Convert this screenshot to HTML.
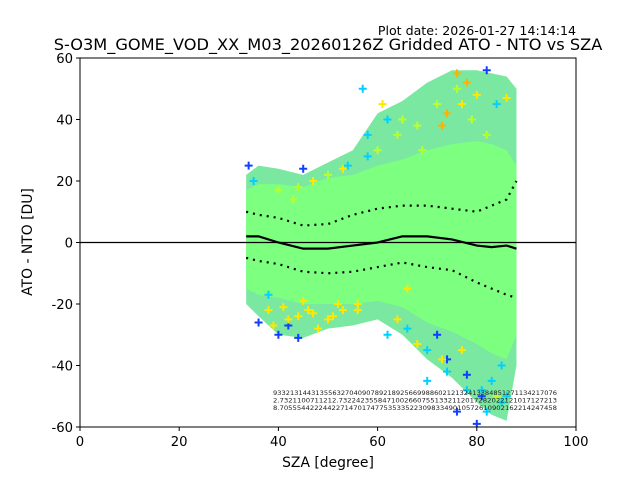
<!DOCTYPE html>
<html><head><meta charset="utf-8"><style>body{margin:0;background:#fff}svg{display:block;font-family:"DejaVu Sans","Liberation Sans",sans-serif}</style></head>
<body>
<svg id="chart" width="640" height="480" viewBox="0 0 640 480">
<text x="576" y="35" text-anchor="end" font-size="12.6">Plot date: 2026-01-27 14:14:14</text>
<text x="328" y="50" text-anchor="middle" font-size="16.2">S-O3M_GOME_VOD_XX_M03_20260126Z Gridded ATO - NTO vs SZA</text>
<g id="plot"></g>
<text x="328" y="467" text-anchor="middle" font-size="13.9">SZA [degree]</text>
<text transform="translate(32,242) rotate(-90)" text-anchor="middle" font-size="13.9">ATO - NTO [DU]</text>
</svg>
<script>
const szaBins=[33.5,36,40,45,50,55,60,65,70,75,80,83,86,88];
const meanVals=[2,2,0,-2,-2,-1,0,2,2,1,-1,-1.5,-1,-2];
const upperStd=[10,9,8,5.5,6,9,11,12,12,11,10,12,14,20];
const lowerStd=[-5,-6,-7,-9.5,-10,-9.5,-8,-6.5,-8,-9,-13,-15,-17,-18];
const cloudMax=[22,25,24,22,26,30,42,46,52,56,56,55,54,50];
const cloudMin=[-20,-24,-30,-31,-28,-27,-25,-30,-38,-44,-52,-56,-58,-40];
const coreMax=[17,19,19,18,21,22,25,27,30,32,33,32,30,25];
const coreMin=[-15,-17,-18,-20,-20,-20,-19,-21,-26,-29,-33,-36,-38,-30];
const ptSza=[34,35,36,38,40,42,44,45,47,53,58,62,66,70,72,74,76,78,80,81,82,83,84,85,86,42,46,48,52,56,64,68,72,76,79,82,84,40,44,50,54,58,62,66,70,74,78,82,86,43,57,61,65,69,73,77,81,85,38,41,44,47,50,53,56,39,45,51,74,76,78,80,73,77,60,64,68];
const ptVal=[25,20,-26,-17,-30,-27,-31,24,20,24,28,40,-15,-35,-30,-38,-55,-43,-59,-50,56,-45,45,-40,47,-25,-22,-28,-20,-22,-25,-33,45,50,40,35,-50,17,18,22,25,35,-30,-28,-45,-42,-48,-55,-50,14,50,45,40,30,-38,-35,-48,-52,-22,-21,-24,-23,-25,-22,-20,-27,-19,-24,42,55,52,48,38,45,30,35,38];
const ptColor=[0,1,0,1,0,0,0,0,2,2,1,1,2,1,0,0,0,0,0,0,0,1,1,1,2,2,2,2,2,2,2,2,3,3,3,3,3,3,3,3,1,1,1,1,1,1,1,1,1,3,1,2,3,3,2,2,1,1,2,2,2,2,2,2,2,2,2,2,4,4,4,2,4,2,3,3,3];
const xTicks=[0,20,40,60,80,100];
const yTicks=[-60,-40,-20,0,20,40,60];
const L=80,R=576,T=58,B=427;
const xs=v=>L+(v/100)*(R-L);
const ys=v=>B-((v+60)/120)*(B-T);
const NS="http://www.w3.org/2000/svg";
const g=document.getElementById('plot');
function mk(t,a,p){const e=document.createElementNS(NS,t);for(const k in a)e.setAttribute(k,a[k]);(p||g).appendChild(e);return e;}
const cp=mk('clipPath',{id:'clip'});mk('rect',{x:L,y:T,width:R-L,height:B-T},cp);
const dg=mk('g',{'clip-path':'url(#clip)'});
function band(hi,lo,fill,name){let d='M'+szaBins.map((s,i)=>xs(s)+','+ys(hi[i])).join('L');for(let i=szaBins.length-1;i>=0;i--)d+='L'+xs(szaBins[i])+','+ys(lo[i]);const e=mk('path',{d:d+'Z',fill:fill},dg);

}
band(cloudMax,cloudMin,'#7ae8a0','scatter-cloud');
band(coreMax,coreMin,'#7dff7f','scatter-core');
const cols=['#1040ff','#00d0ff','#ffe800','#b8ff30','#ffb000'];
ptSza.forEach((s,i)=>{const x=xs(s),y=ys(ptVal[i]);const e=mk('path',{d:`M${x-4},${y}H${x+4}M${x},${y-4}V${y+4}`,stroke:cols[ptColor[i]],'stroke-width':2},dg);

});
function line(vals,dash,w,name){const e=mk('polyline',{points:szaBins.map((s,i)=>xs(s)+','+ys(vals[i])).join(' '),fill:'none',stroke:'#000','stroke-width':w,'stroke-dasharray':dash},dg);

}
line(meanVals,'none',2.2,'mean-line');line(upperStd,'2 5',2.2,'upper-std-line');line(lowerStd,'2 5',2.2,'lower-std-line');
const z=mk('line',{x1:L,x2:R,y1:ys(0),y2:ys(0),stroke:'#000','stroke-width':1.2});


const rows=['9332131443135563270409078921892566998860212132413384851271134217076','2.7321100711212.73224235584710026607551332112017282022121017127213','8.7055544222442271470174775353352230983349010572610902162214247458'];
rows.forEach((r,i)=>{const t=mk('text',{x:415,y:395+i*7.5,'text-anchor':'middle','font-size':6.2,fill:'#222',textLength:284,lengthAdjust:'spacingAndGlyphs'});t.textContent=r;

});
mk('rect',{x:L,y:T,width:R-L,height:B-T,fill:'none',stroke:'#000','stroke-width':1});
xTicks.forEach(v=>{const x=xs(v);mk('line',{x1:x,x2:x,y1:B,y2:B+4,stroke:'#000'});const t=mk('text',{x:x,y:B+19,'text-anchor':'middle','font-size':13.2});t.textContent=v;

});
yTicks.forEach(v=>{const y=ys(v);mk('line',{x1:L-4,x2:L,y1:y,y2:y,stroke:'#000'});const t=mk('text',{x:L-7,y:y+5,'text-anchor':'end','font-size':13.2});t.textContent=v;

});
</script>
</body></html>
